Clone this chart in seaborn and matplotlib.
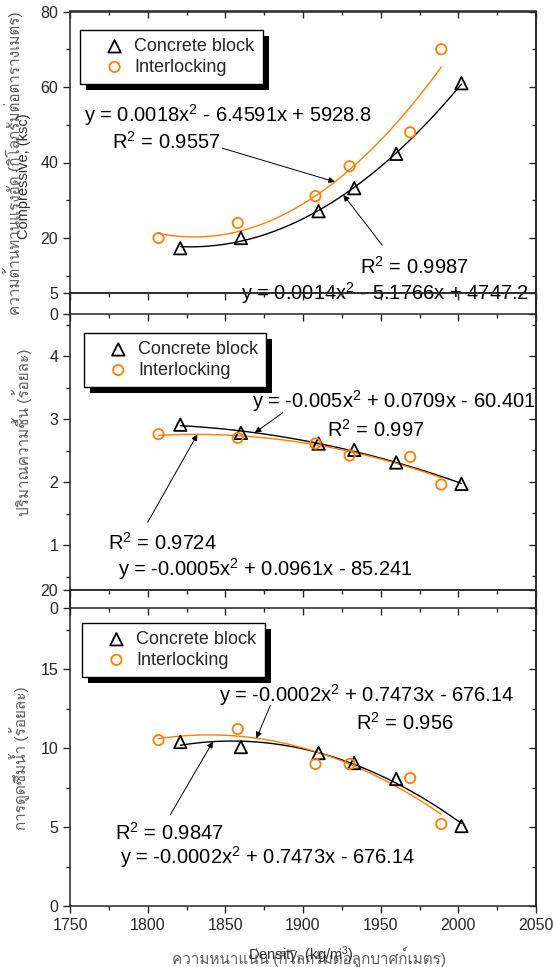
import numpy as np
import seaborn as sns
import matplotlib.pyplot as plt
from matplotlib import font_manager
from matplotlib.ft2font import FT2Font
from matplotlib.patches import Rectangle
from matplotlib.transforms import IdentityTransform
from matplotlib.ticker import MultipleLocator

# density (kg/m3)
block_density = [1821, 1860, 1910, 1933, 1960, 2002]
inter_density = [1807, 1858, 1908, 1930, 1969, 1989]

# compressive strength (ksc)
block_strength = [17.3, 20.0, 27.1, 33.2, 42.3, 61.0]
inter_strength = [20.0, 24.0, 31.1, 39.0, 48.0, 70.0]

# moisture content (%)
block_moisture = [2.91, 2.78, 2.61, 2.51, 2.31, 1.97]
inter_moisture = [2.76, 2.70, 2.61, 2.42, 2.40, 1.96]

# water absorption (%)
block_absorb = [10.38, 10.06, 9.68, 9.05, 8.04, 5.06]
inter_absorb = [10.5, 11.2, 8.99, 8.99, 8.10, 5.19]

ORANGE = "#ff7f00"

# look for a font that has Thai glyphs
thai_font = None
for f in font_manager.fontManager.ttflist:
    try:
        if 0x0E01 in FT2Font(f.fname).get_charmap():
            thai_font = f.name
            break
    except Exception:
        pass

sns.set_style("ticks")
families = ["Liberation Sans"] + ([thai_font] if thai_font else []) + ["DejaVu Sans"]
plt.rcParams["font.family"] = families
plt.rcParams["mathtext.default"] = "regular"
plt.rcParams["axes.linewidth"] = 1.1

W, H = 556, 967
fig = plt.figure(figsize=(W / 100, H / 100), dpi=100)


def px_axes(top, bottom, left=70, right=536):
    return fig.add_axes([left / W, 1 - bottom / H, (right - left) / W, (bottom - top) / H])


def fit(dens, vals):
    return np.polyfit(dens, vals, 2)


def panel(ax, yb, yi, ylim, major, minor, show_x):
    for dens, vals, color, marker, label, s in [
        (block_density, yb, "black", "^", "Concrete block", 80),
        (inter_density, yi, ORANGE, "o", "Interlocking", 55),
    ]:
        coef = fit(dens, vals)
        xs = np.linspace(min(dens), max(dens), 120)
        sns.lineplot(x=xs, y=np.polyval(coef, xs), ax=ax, color=color, lw=1.0)
        sns.scatterplot(x=dens, y=vals, ax=ax, marker=marker, s=s, color=color,
                        facecolor="none", edgecolor=color, linewidth=1.3,
                        label=label, zorder=3, clip_on=False)
    ax.set_xlim(1750, 2050)
    ax.set_ylim(*ylim)
    ax.set_facecolor("none")
    ax.xaxis.set_major_locator(MultipleLocator(50))
    ax.xaxis.set_minor_locator(MultipleLocator(25))
    ax.yaxis.set_major_locator(MultipleLocator(major))
    ax.yaxis.set_minor_locator(MultipleLocator(minor))
    ax.tick_params(which="both", direction="out", labelsize=11.5, width=1.0)
    ax.tick_params(which="major", length=5)
    ax.tick_params(which="minor", length=3)
    ax.tick_params(axis="x", labelbottom=show_x)
    ax.set_xlabel("")
    ax.set_ylabel("")
    for side in ["top", "right"]:
        ax.spines[side].set_visible(True)
    sec = ax.secondary_yaxis("right")
    sec.yaxis.set_major_locator(MultipleLocator(major))
    sec.yaxis.set_minor_locator(MultipleLocator(minor))
    sec.tick_params(which="both", direction="in", labelright=False, width=1.0)
    sec.tick_params(which="major", length=5)
    sec.tick_params(which="minor", length=3)
    secx = ax.secondary_xaxis("top")
    secx.xaxis.set_major_locator(MultipleLocator(50))
    secx.xaxis.set_minor_locator(MultipleLocator(25))
    secx.tick_params(which="both", direction="in", labeltop=False, width=1.0)
    secx.tick_params(which="major", length=5)
    secx.tick_params(which="minor", length=3)


def legend(ax, x, y):
    leg = ax.legend(loc="upper left", bbox_to_anchor=(x, y), fontsize=13,
                    frameon=True, fancybox=False, framealpha=1, edgecolor="black",
                    borderpad=0.45, handlelength=2.9, handletextpad=-0.35,
                    labelspacing=0.2, borderaxespad=0)
    leg.get_frame().set_linewidth(1.0)
    return leg


def arrow(ax, start, tip):
    ax.annotate("", xy=tip, xytext=start,
                arrowprops=dict(arrowstyle="-|>", color="black", lw=0.7,
                                mutation_scale=9, shrinkA=0, shrinkB=0))


TXT = dict(fontsize=14.5, va="center", ha="left", color="black")

# ---- top: compressive strength
ax1 = px_axes(11.5, 313.5)
panel(ax1, block_strength, inter_strength, (0, 80), 20, 10, False)
leg1 = legend(ax1, 0.022, 0.939)
ax1.text(1759, 52.6, "y = 0.0018x$^{2}$ - 6.4591x + 5928.8", **TXT)
ax1.text(1777, 45.4, "R$^{2}$ = 0.9557", **TXT)
arrow(ax1, (1848, 43.8), (1920.5, np.polyval(fit(inter_density, inter_strength), 1920.5)))
ax1.text(1937, 12.4, "R$^{2}$ = 0.9987", **TXT)
arrow(ax1, (1951, 18.1), (1926, np.polyval(fit(block_density, block_strength), 1926)))
ax1.text(1860, 5.4, "y = 0.0014x$^{2}$ - 5.1766x + 4747.2", **TXT)

# ---- middle: moisture content
ax2 = px_axes(293, 608)
panel(ax2, block_moisture, inter_moisture, (0, 5), 1, 0.5, False)
leg2 = legend(ax2, 0.030, 0.873)
ax2.text(1867, 3.29, "y = -0.005x$^{2}$ + 0.0709x - 60.401", **TXT)
ax2.text(1915.5, 2.83, "R$^{2}$ = 0.997", **TXT)
arrow(ax2, (1887, 3.10), (1869, np.polyval(fit(block_density, block_moisture), 1869)))
ax2.text(1774.5, 1.03, "R$^{2}$ = 0.9724", **TXT)
arrow(ax2, (1800, 1.36), (1832, np.polyval(fit(inter_density, inter_moisture), 1832)))
ax2.text(1781, 0.62, "y = -0.0005x$^{2}$ + 0.0961x - 85.241", **TXT)

# ---- bottom: water absorption
ax3 = px_axes(590, 906)
panel(ax3, block_absorb, inter_absorb, (0, 20), 5, 2.5, True)
leg3 = legend(ax3, 0.026, 0.896)
ax3.text(1846, 13.35, "y = -0.0002x$^{2}$ + 0.7473x - 676.14", **TXT)
ax3.text(1934, 11.6, "R$^{2}$ = 0.956", **TXT)
arrow(ax3, (1879, 12.7), (1870, np.polyval(fit(inter_density, inter_absorb), 1870)))
ax3.text(1779, 4.62, "R$^{2}$ = 0.9847", **TXT)
arrow(ax3, (1814.5, 5.76), (1842, np.polyval(fit(block_density, block_absorb), 1842)))
ax3.text(1782, 3.1, "y = -0.0002x$^{2}$ + 0.7473x - 676.14", **TXT)

# axis titles (Thai with the English overlaid, as in the original)
fig.text(13 / W, 1 - 163 / H, "ความต้านทานแรงอัด (กิโลกรัมต่อตารางเมตร)", rotation=90,
         ha="center", va="center", fontsize=11, color="#606060")
fig.text(24 / W, 1 - 176 / H, "Compressive, (ksc)", rotation=90,
         ha="center", va="center", fontsize=10.5, color="#303030")
fig.text(22 / W, 1 - 432 / H, "ปริมาณความชื้น (ร้อยละ)", rotation=90,
         ha="center", va="center", fontsize=11, color="#606060")
fig.text(20 / W, 1 - 758 / H, "การดูดซึมน้ำ (ร้อยละ)", rotation=90,
         ha="center", va="center", fontsize=11, color="#606060")
fig.text(309 / W, 1 - 957 / H, "ความหนาแน่น (กิโลกรัมต่อลูกบาศก์เมตร)",
         ha="center", va="center", fontsize=11, color="#606060")
fig.text(301 / W, 1 - 955 / H, "Density, (kg/m$^{3}$)",
         ha="center", va="center", fontsize=10.5, color="#303030")

# solid black drop shadow behind each legend box (drawn before the axes)
fig.canvas.draw()
for leg in [leg1, leg2, leg3]:
    bb = leg.get_window_extent()
    fig.patches.append(Rectangle((bb.x0 + 6, bb.y0 - 6), bb.width, bb.height,
                                 transform=IdentityTransform(), facecolor="black",
                                 edgecolor="none", zorder=-1, figure=fig))

fig.savefig("out.png", dpi=100)
